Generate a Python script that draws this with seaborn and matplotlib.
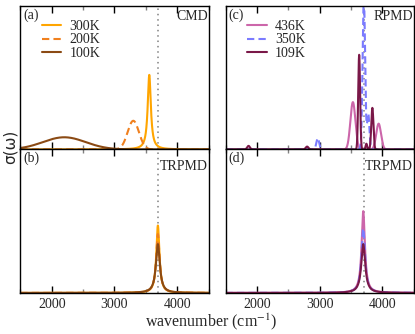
import numpy as np
import pandas as pd
import seaborn as sns
import matplotlib
matplotlib.use("Agg")
import matplotlib.pyplot as plt
from matplotlib.ticker import MultipleLocator

sns.set_theme(style="ticks")
plt.rcParams['font.family'] = ['Liberation Serif', 'DejaVu Serif']
plt.rcParams['mathtext.fontset'] = 'stix'

# peak parameters: centre (cm-1), height, half width
cmd_labels = ["300K", "200K", "100K"]
cmd_centres = [[3555], [3300], [2200]]
cmd_heights = [[0.52], [0.20], [0.085]]
cmd_widths = [[30], [90], [340]]
cmd_shapes = ["lorentz", "gauss", "gauss"]

trpmd_a_centres = [[3692], [3692], [3692]]
trpmd_a_heights = [[0.47], [0.41], [0.34]]
trpmd_a_widths = [[30], [33], [38]]

rpmd_labels = ["436K", "350K", "109K"]
rpmd_centres = [[3530, 3940], [2970, 3705, 3775], [1867, 2800, 3630, 3745, 3840]]
rpmd_heights = [[0.33, 0.18], [0.08, 1.05, 0.25], [0.025, 0.02, 0.66, 0.04, 0.29]]
rpmd_widths = [[40, 38], [22, 20, 18], [22, 22, 15, 12, 17]]

trpmd_c_centres = [[3695], [3695], [3695]]
trpmd_c_heights = [[0.57], [0.45], [0.34]]
trpmd_c_widths = [[32], [34], [38]]

cmd_colors = ["#FFA500", "#F0801E", "#8B4A14"]
rpmd_colors = ["#CC66AA", "#7B7BFF", "#7A1848"]
dash_styles = ["", (3.5, 2), ""]

x = np.linspace(1500, 4500, 3001)


def spectrum(centres, heights, widths, shape):
    y = np.zeros_like(x)
    for c, h, w in zip(centres, heights, widths):
        if shape == "lorentz":
            y += h / (1 + ((x - c) / w) ** 2)
        else:
            y += h * np.exp(-0.5 * ((x - c) / w) ** 2)
    return y


def make_df(labels, centres, heights, widths, shapes):
    frames = []
    for lab, c, h, w, s in zip(labels, centres, heights, widths, shapes):
        frames.append(pd.DataFrame({"wavenumber": x, "sigma": spectrum(c, h, w, s), "T": lab}))
    return pd.concat(frames, ignore_index=True)


panels = {
    (0, 0): (make_df(cmd_labels, cmd_centres, cmd_heights, cmd_widths, cmd_shapes), cmd_labels, cmd_colors, "(a)", "CMD", True),
    (1, 0): (make_df(cmd_labels, trpmd_a_centres, trpmd_a_heights, trpmd_a_widths, ["lorentz"] * 3), cmd_labels, cmd_colors, "(b)", "TRPMD", False),
    (0, 1): (make_df(rpmd_labels, rpmd_centres, rpmd_heights, rpmd_widths, ["gauss"] * 3), rpmd_labels, rpmd_colors, "(c)", "RPMD", True),
    (1, 1): (make_df(rpmd_labels, trpmd_c_centres, trpmd_c_heights, trpmd_c_widths, ["lorentz"] * 3), rpmd_labels, rpmd_colors, "(d)", "TRPMD", False),
}

fig, axes = plt.subplots(2, 2, figsize=(4.15, 3.34), dpi=100, sharex=True)
fig.subplots_adjust(left=0.049, right=0.997, top=0.982, bottom=0.123, wspace=0.09, hspace=0)

for (r, c), (df, labels, colors, tag, method, show_leg) in panels.items():
    ax = axes[r, c]
    sns.lineplot(data=df, x="wavenumber", y="sigma", hue="T", style="T",
                 hue_order=labels, style_order=labels,
                 palette=dict(zip(labels, colors)), dashes=dict(zip(labels, dash_styles)),
                 linewidth=1.5, ax=ax, legend=show_leg)
    ax.axvline(3700, color="grey", linestyle=(0, (1, 2.5)), linewidth=1.1, zorder=0)
    ax.set_xlim(1500, 4500)
    ax.set_ylim(0, 1.0)
    ax.set_yticks([])
    ax.set_xlabel("")
    ax.set_ylabel("")
    ax.xaxis.set_major_locator(MultipleLocator(1000))
    ax.xaxis.set_minor_locator(MultipleLocator(500))
    ax.tick_params(axis="x", which="major", direction="in", top=True, bottom=True,
                   length=5, width=1, color="black", labelsize=10, pad=4)
    ax.tick_params(axis="x", which="minor", direction="in", top=True, bottom=True,
                   length=3, width=1, color="grey")
    for sp in ax.spines.values():
        sp.set_linewidth(1.0)
        sp.set_color("black")
    ax.text(0.015, 0.985, tag, transform=ax.transAxes, ha="left", va="top", fontsize=10)
    ax.text(0.995, 0.975 if r == 0 else 0.93, method, transform=ax.transAxes,
            ha="right", va="top", fontsize=10)
    if show_leg:
        ax.legend(loc="upper left", bbox_to_anchor=(0.085, 0.94), frameon=False,
                  fontsize=10, handlelength=1.4, handletextpad=0.6, labelspacing=0.02,
                  borderaxespad=0)
    if r == 0:
        ax.tick_params(axis="x", labelbottom=False)

fig.text(0.025, 0.56, "σ(ω)", rotation=90, ha="center", va="center", fontsize=11, family="DejaVu Sans")
fig.text(0.51, 0.036, "wavenumber (cm$^{-1}$)", ha="center", va="center", fontsize=11.5)

fig.savefig("out.png", dpi=100)
